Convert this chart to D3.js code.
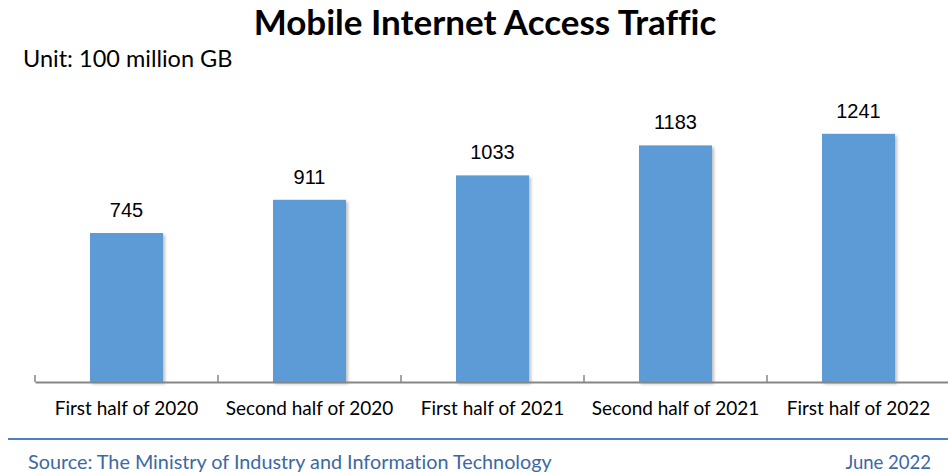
<!DOCTYPE html>
<html>
<head>
<meta charset="utf-8">
<script src="https://cdn.jsdelivr.net/npm/d3@7"></script>
<style>
  body { margin: 0; background: #fff; }
  svg { display: block; }
  text { font-variant-ligatures: none; }
</style>
</head>
<body>
<div id="chart"></div>
<script>
// chart data
const categories = ["First half of 2020", "Second half of 2020", "First half of 2021", "Second half of 2021", "First half of 2022"];
const traffic = [745, 911, 1033, 1183, 1241];

const W = 948, H = 474;
const margin = { top: 102, right: -2, bottom: 92, left: 35 };
const plotW = W - margin.left - margin.right;
const plotH = H - margin.top - margin.bottom;

const svg = d3.select("#chart")
    .append("svg")
    .attr("width", W)
    .attr("height", H);

// soft shadow under the bars
const defs = svg.append("defs");
const f = defs.append("filter").attr("id", "shadow")
    .attr("x", "-10%").attr("y", "-10%").attr("width", "130%").attr("height", "130%");
f.append("feDropShadow")
    .attr("dx", 2).attr("dy", 2).attr("stdDeviation", 1.5)
    .attr("flood-color", "#000").attr("flood-opacity", 0.25);

const g = svg.append("g")
    .attr("transform", "translate(" + margin.left + "," + margin.top + ")");

// one band per category, ticks sit on band edges
const x = d3.scaleBand()
    .domain(categories)
    .range([0, plotW]);

const barW = 73;

const y = d3.scaleLinear()
    .domain([0, 1400])
    .range([plotH, 0]);

// bars
g.selectAll("rect.bar")
    .data(traffic)
    .join("rect")
    .attr("class", "bar")
    .attr("x", (d, i) => x(categories[i]) + x.bandwidth() / 2 - barW / 2)
    .attr("width", barW)
    .attr("y", d => y(d))
    .attr("height", d => y(0) - y(d))
    .attr("fill", "#5b9bd5")
    .attr("filter", "url(#shadow)");

// value labels
g.selectAll("text.val")
    .data(traffic)
    .join("text")
    .attr("class", "val")
    .attr("x", (d, i) => x(categories[i]) + x.bandwidth() / 2)
    .attr("y", d => y(d) - 16)
    .attr("text-anchor", "middle")
    .style("font-family", "'Liberation Sans', Arial, sans-serif")
    .style("font-size", "20px")
    .attr("fill", "#000")
    .text(d => d);

// x axis
const xAxis = g.append("g")
    .attr("transform", "translate(0," + plotH + ")")
    .call(d3.axisBottom(x).tickSize(0).tickPadding(20));

xAxis.select(".domain")
    .attr("stroke", "#868686")
    .attr("stroke-width", 2);

xAxis.selectAll(".tick text")
    .style("font-family", "Lato, 'Open Sans', sans-serif")
    .style("font-size", "19px")
    .attr("fill", "#000");

xAxis.selectAll("line.edge")
    .data(categories)
    .join("line")
    .attr("class", "edge")
    .attr("x1", d => x(d)).attr("x2", d => x(d))
    .attr("y1", 0).attr("y2", -7)
    .attr("stroke", "#868686")
    .attr("stroke-width", 1.5);

// title and unit
svg.append("text")
    .attr("x", 485)
    .attr("y", 35)
    .attr("text-anchor", "middle")
    .style("font-family", "Lato, 'Open Sans', sans-serif")
    .style("font-weight", "bold")
    .style("font-size", "35px")
    .attr("fill", "#000")
    .text("Mobile Internet Access Traffic");

svg.append("text")
    .attr("x", 23)
    .attr("y", 67)
    .style("font-family", "Lato, 'Open Sans', sans-serif")
    .style("font-size", "23.5px")
    .attr("fill", "#000")
    .text("Unit: 100 million GB");

// footer
svg.append("line")
    .attr("x1", 8).attr("x2", W)
    .attr("y1", 439).attr("y2", 439)
    .attr("stroke", "#4a7fcb")
    .attr("stroke-width", 2);

svg.append("text")
    .attr("x", 28)
    .attr("y", 469)
    .style("font-family", "Lato, 'Open Sans', sans-serif")
    .style("font-size", "19.8px")
    .attr("fill", "#3c68a4")
    .text("Source: The Ministry of Industry and Information Technology");

svg.append("text")
    .attr("x", 931)
    .attr("y", 469)
    .attr("text-anchor", "end")
    .style("font-family", "Lato, 'Open Sans', sans-serif")
    .style("font-size", "18.5px")
    .attr("fill", "#3c68a4")
    .text("June 2022");
</script>
</body>
</html>
